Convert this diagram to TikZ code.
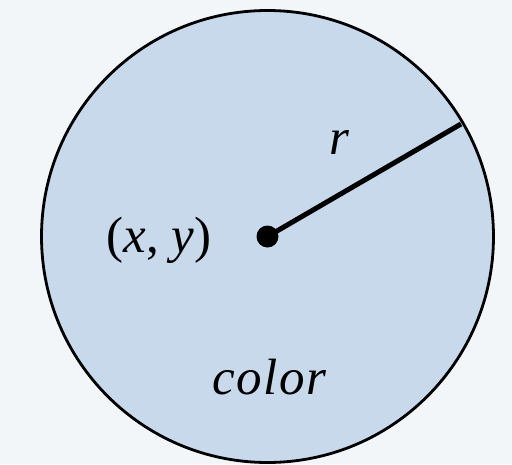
\documentclass[tikz,border=0pt]{standalone}
\usepackage{fontspec}
\setmainfont{Liberation Serif}[ItalicFont={Liberation Serif Italic}]
\newfontfamily\spaced{Liberation Serif Italic}[LetterSpace=3]
\definecolor{bg}{HTML}{F3F6F9}
\definecolor{disk}{HTML}{C9D9EC}
\begin{document}
\begin{tikzpicture}[x=1pt,y=-1pt,
  lbl/.style={font=\fontsize{51}{60}\selectfont, inner sep=0pt}]
\fill[bg] (0,0) rectangle (512,464);
\useasboundingbox (0,0) rectangle (512,464);
\coordinate (c) at (267.5,236.5);
\node[circle, draw=black, line width=2.8pt, fill=disk, minimum size=452pt, inner sep=0pt] (disk) at (c) {};
\coordinate (e) at (461,124);
\draw[line width=5pt] (c) -- (e);
\fill (c) circle (11pt);
\node[lbl, anchor=base] (r) at (339,154) {\itshape r};
\node[lbl, anchor=base] (xy) at (159,252) {(\textit{x}, \textit{y})};
\node[lbl, anchor=base] (col) at (269,394) {\spaced color};
\end{tikzpicture}
\end{document}
